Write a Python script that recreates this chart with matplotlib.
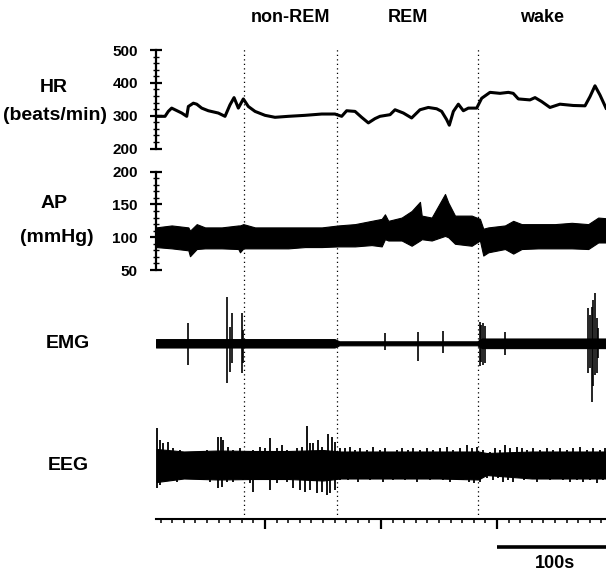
import matplotlib
matplotlib.use('Agg')
import matplotlib.pyplot as plt
from matplotlib.ticker import MultipleLocator

plt.rcParams['font.family'] = ['Liberation Sans', 'DejaVu Sans']
plt.rcParams['font.weight'] = 'bold'

# 时间轴范围 (s)
T_LEFT, T_RIGHT = 6.0, 394.0

# 睡眠阶段分界 (s)
stage_names = ['non-REM', 'REM', 'wake']
stage_edges = [81.9, 162.0, 283.6, 394.0]

# HR (beats/min)
hr_t = [6, 13.8, 16.6, 19.5, 22.4, 28.2, 32.5, 33.9, 38.2, 41.1,
        45.4, 51.1, 59.7, 65.5, 69.8, 73.3, 77, 81.3, 85.6, 91.4,
        100, 108.6, 120.1, 134.5, 148.9, 160.3, 166.1, 170.4, 177.6, 183.3,
        189.1, 194.8, 199.1, 207.8, 212.1, 219.3, 226.4, 233.6, 240.8, 248,
        252.3, 256.6, 258.9, 262.4, 266.7, 271, 275.3, 282.5, 286.8, 294,
        302.6, 309.8, 314, 318.4, 328.4, 332.8, 338.5, 345.7, 354.3, 365.8,
        375.9, 380.2, 384.5, 388.8, 394]
hr_v = [298, 298, 313, 323, 318, 308, 298, 328, 338, 335,
        323, 315, 308, 298, 333, 355, 323, 351, 328, 313,
        301, 295, 298, 301, 305, 305, 298, 315, 313, 295,
        278, 291, 298, 303, 318, 308, 293, 318, 325, 321,
        313, 288, 271, 313, 335, 315, 323, 323, 353, 371,
        368, 371, 368, 351, 348, 355, 343, 325, 335, 331,
        330, 358, 391, 363, 323]

# AP (mmHg) 上下包络
ap_t = [6, 19.5, 33.9, 35.3, 41.1, 48.3, 62.6, 77, 78.4, 81.3,
        91.4, 105.7, 120.1, 134.5, 148.9, 163.2, 177.6, 191.9, 200.6, 203.4,
        206.3, 217.8, 226.4, 233.6, 235.1, 243.7, 255.2, 258, 263.8, 278.2,
        285.3, 288.2, 292.5, 306.9, 314, 321.3, 335.6, 350, 364.4, 378.7,
        387.3, 394]
ap_top = [115, 118, 115, 110, 120, 115, 115, 118, 118, 120,
          115, 115, 115, 115, 115, 118, 120, 125, 128, 135,
          125, 130, 140, 154, 133, 130, 166, 153, 133, 133,
          128, 113, 115, 118, 125, 120, 120, 120, 122, 120,
          130, 129]
ap_bot = [85, 83, 80, 71, 82, 83, 83, 82, 77, 83,
          83, 83, 83, 85, 85, 86, 86, 88, 86, 97,
          95, 95, 87, 95, 97, 95, 102, 100, 90, 87,
          95, 72, 77, 82, 75, 82, 83, 83, 83, 82,
          92, 92]

# EMG (任意单位) 基线包络 + 尖峰
emg_t = [6, 160, 164, 283, 287, 394]
emg_top = [4.2, 4.2, 2.0, 2.0, 4.8, 4.8]
emg_bot = [-4.2, -4.2, -2.0, -2.0, -4.8, -4.8]
emg_spike_t = [33.9, 67.5, 69.8, 71.3, 79.9, 81.3, 203.4, 232.2, 253.7,
               285.3, 286.5, 288.2, 289.7, 306.9,
               378.7, 380.0, 381.6, 383.0, 384.5, 385.9, 387.0]
emg_spike_top = [20, 46.6, 16.6, 30, 30, 13.3, 10, 11.6, 12.6,
                 21.6, 18, 20, 17, 11.6,
                 35, 28, 36.6, 43, 50, 25, 15]
emg_spike_bot = [-21.7, -39.4, -28.4, -20, -30, -20, -6.7, -17.7, -10,
                 -22.7, -19, -21.7, -20, -11.7,
                 -30, -25, -58.4, -43, -31.7, -30, -15]

# EEG (任意单位) 实心带 + 上/下毛刺
eeg_t = [6.6, 30, 60, 90, 120, 150, 165, 200, 250, 283.9, 291, 330, 394]
eeg_top = [16, 13.5, 14.5, 14, 14, 15, 13.5, 13.5, 13.5, 13.5, 12, 13.5, 13.5]
eeg_bot = [-17, -13.5, -14.5, -14, -14, -15.5, -13.5, -13.5, -13.5, -14.5, -10, -13.5, -13.5]
eeg_up_t = [6.6, 9.5, 12.4, 16.7, 21, 26.7, 44, 49.7, 59.8, 61.8,
            64.1, 68.4, 72.7, 78.4, 84.2, 89.9, 95.7, 100, 104.3, 110.1,
            114.4, 118.7, 127.3, 131.6, 135.9, 138.8, 141.7, 146, 148.9, 154.6,
            157.5, 160.3, 164.7, 169, 173.3, 177.6, 181.9, 187.6, 193.4, 199.1,
            203.4, 207.8, 213.5, 217.8, 223.6, 227.9, 233.6, 239.4, 245.1, 250.9,
            256.6, 262.4, 268.1, 273.9, 278.2, 282.5, 288.2, 294, 298.3, 302.6,
            306.9, 311.2, 317, 321.3, 325.6, 331.3, 337.1, 342.8, 348.6, 354.3,
            360.1, 365.8, 371.6, 377.3, 383, 388.8, 393.1]
eeg_up_v = [36.7, 25, 21.7, 23.3, 16.7, 15, 13.3, 15, 28.3, 28.3,
            25, 18.3, 15, 16.7, 13.3, 15, 18.3, 16.7, 26.7, 16.7,
            20, 15, 16.7, 18.3, 39.3, 21.7, 21.7, 25, 18.3, 31,
            28.3, 23.3, 16.7, 16.7, 18.3, 15, 16.7, 15, 18.3, 15,
            16.7, 13.3, 15, 16.7, 15, 16.7, 15, 16.7, 15, 16.7,
            18.3, 15, 16.7, 20, 16.7, 18.3, 15, 13.3, 16.7, 15,
            20, 16.7, 18.3, 16.7, 15, 16.7, 15, 16.7, 15, 16.7,
            15, 16.7, 18.3, 15, 16.7, 15, 16.7]
eeg_dn_t = [6.6, 9.5, 15.2, 23.9, 32.5, 44, 52.6, 59.8, 62.6, 67,
            72.7, 81.3, 87.1, 89.9, 95.7, 104.3, 110.1, 118.7, 124.4, 130.2,
            134.5, 138.8, 144.5, 148.9, 153.2, 156, 160.3, 164.7,
            171.2, 175.5, 179.8, 184.8, 190.5, 196.3, 201.3, 205.6, 210.7, 215.7,
            220.7, 225.8, 230.8, 236.5, 242.3, 248, 253.8, 259.5, 265.3, 271,
            276, 280.4, 285.3, 291.1, 296.2, 300.5, 304.8, 309.1, 314.1, 319.2,
            323.5, 328.5, 334.2, 340, 345.7, 351.5, 357.2, 363, 368.7, 374.4,
            380.2, 385.9, 391]
eeg_dn_v = [-23.3, -20, -15, -16.7, -13.3, -15, -16.7, -23.3, -21.7, -16.7,
            -16.7, -15, -18.3, -26.7, -15, -25, -18.3, -16.7, -23.3, -25,
            -26.7, -25, -28.3, -26.7, -30, -28.3, -25, -15,
            -15, -13.3, -16.7, -13.3, -15, -13.3, -16.7, -13.3, -15, -13.3,
            -15, -13.3, -16.7, -13.3, -15, -13.3, -15, -16.7, -13.3, -15,
            -16.7, -18.3, -16.7, -13.3, -15, -13.3, -16.7, -15, -16.7, -13.3,
            -15, -13.3, -16.7, -13.3, -15, -13.3, -15, -16.7, -15, -16.7,
            -15, -18.3, -15]

W, H = 606, 572


def rect(left, top, right, bottom):
    return [left / W, 1 - bottom / H, (right - left) / W, (bottom - top) / H]


fig = plt.figure(figsize=(W / 100, H / 100), dpi=100)

# 底层: 分期虚线 + 时间轴 + 比例尺
base = fig.add_axes(rect(156, 48, 606, 519))
base.set_facecolor('none')
base.set_xlim(T_LEFT, T_RIGHT)
base.set_ylim(0, 1)
for s in ['top', 'right', 'left']:
    base.spines[s].set_visible(False)
base.spines['bottom'].set_linewidth(1.5)
base.set_yticks([])
base.xaxis.set_major_locator(MultipleLocator(100))
base.xaxis.set_minor_locator(MultipleLocator(10))
base.tick_params(axis='x', which='major', direction='out', length=7, width=1.6, labelbottom=False)
base.tick_params(axis='x', which='minor', direction='out', length=3, width=1.1)
for e in stage_edges[:3]:
    base.axvline(e, color='black', lw=0.9, linestyle=(0, (1, 2.6)))
for i, name in enumerate(stage_names):
    mid = (stage_edges[i] + stage_edges[i + 1]) / 2
    base.text(mid, (519 - 18) / 471, name, transform=base.get_xaxis_transform(),
              ha='center', va='center', fontsize=13, fontweight='bold')
bar_y = (519 - 547) / 471
base.plot([300, 400], [bar_y, bar_y], transform=base.get_xaxis_transform(),
          color='black', lw=2.6, clip_on=False, solid_capstyle='butt')
base.text(350, (519 - 563) / 471, '100s', transform=base.get_xaxis_transform(),
          ha='center', va='center', fontsize=13, fontweight='bold')


def scaled_axis(ax, major, minor):
    for s in ['top', 'right', 'bottom']:
        ax.spines[s].set_visible(False)
    ax.spines['left'].set_linewidth(1.6)
    ax.set_xticks([])
    ax.yaxis.set_major_locator(MultipleLocator(major))
    ax.yaxis.set_minor_locator(MultipleLocator(minor))
    ax.tick_params(axis='y', which='major', direction='inout', length=8, width=1.6,
                   labelsize=11, pad=9)
    ax.tick_params(axis='y', which='minor', direction='inout', length=4, width=1.0)
    for lab in ax.get_yticklabels():
        lab.set_fontweight('bold')
    ax.set_facecolor('none')


# HR
ax_hr = fig.add_axes(rect(156, 50, 606, 148.5))
ax_hr.plot(hr_t, hr_v, color='black', lw=2.2)
ax_hr.set_xlim(T_LEFT, T_RIGHT)
ax_hr.set_ylim(200, 500)
scaled_axis(ax_hr, 100, 20)

# AP
ax_ap = fig.add_axes(rect(156, 171.7, 606, 270))
ax_ap.fill_between(ap_t, ap_bot, ap_top, color='black', lw=0.8, edgecolor='black')
ax_ap.set_xlim(T_LEFT, T_RIGHT)
ax_ap.set_ylim(50, 200)
scaled_axis(ax_ap, 50, 10)

# EMG
ax_emg = fig.add_axes(rect(156, 290, 606, 405))
ax_emg.fill_between(emg_t, emg_bot, emg_top, color='black', lw=0.8, edgecolor='black')
ax_emg.vlines(emg_spike_t, emg_spike_bot, emg_spike_top, color='black', lw=1.2)
ax_emg.set_xlim(T_LEFT, T_RIGHT)
ax_emg.set_ylim(-61.7, 53.3)
ax_emg.axis('off')

# EEG
ax_eeg = fig.add_axes(rect(156, 420, 606, 510))
ax_eeg.fill_between(eeg_t, eeg_bot, eeg_top, color='black', lw=0.8, edgecolor='black')
ax_eeg.vlines(eeg_up_t, 0, eeg_up_v, color='black', lw=1.3)
ax_eeg.vlines(eeg_dn_t, eeg_dn_v, 0, color='black', lw=1.3)
ax_eeg.set_xlim(T_LEFT, T_RIGHT)
ax_eeg.set_ylim(-45, 45)
ax_eeg.axis('off')

# 左侧通道标签
fig.text(53.5 / W, 1 - 88 / H, 'HR', ha='center', va='center', fontsize=14, fontweight='bold')
fig.text(54.5 / W, 1 - 116 / H, '(beats/min)', ha='center', va='center', fontsize=14, fontweight='bold')
fig.text(54 / W, 1 - 203 / H, 'AP', ha='center', va='center', fontsize=14, fontweight='bold')
fig.text(57 / W, 1 - 238 / H, '(mmHg)', ha='center', va='center', fontsize=14, fontweight='bold')
fig.text(68 / W, 1 - 344 / H, 'EMG', ha='center', va='center', fontsize=14, fontweight='bold')
fig.text(68.5 / W, 1 - 465 / H, 'EEG', ha='center', va='center', fontsize=14, fontweight='bold')

fig.savefig('out.png', dpi=100)
